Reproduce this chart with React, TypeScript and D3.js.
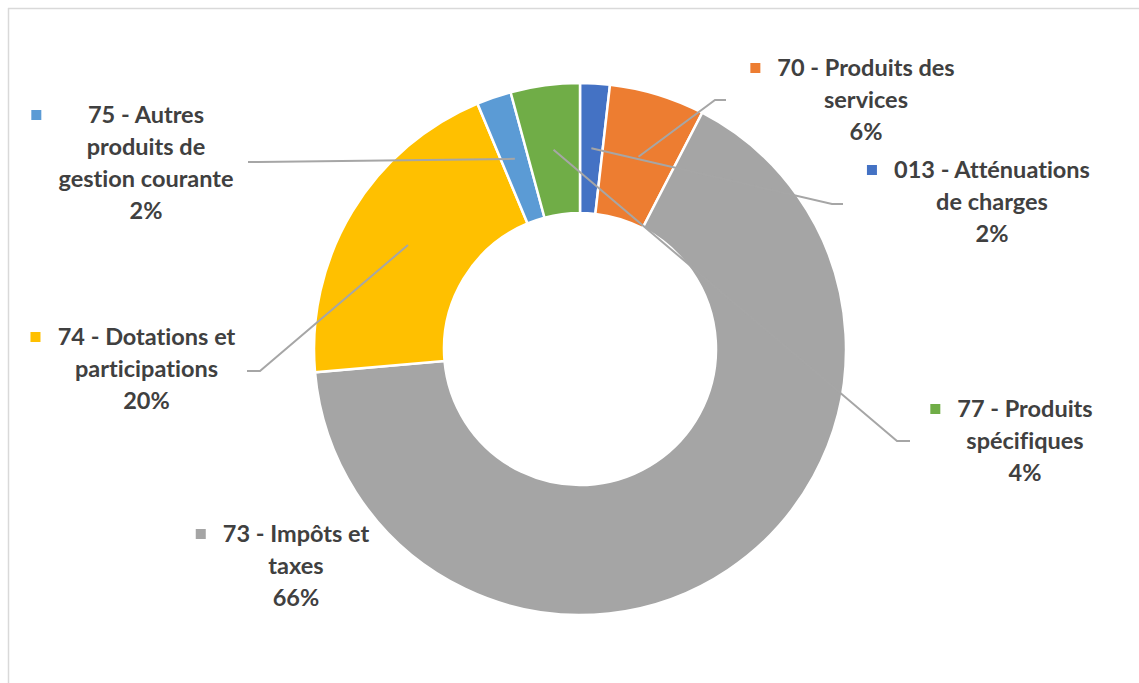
import React, { useMemo } from "react";
import * as d3 from "d3";

// ---- data ----
const categories = [
  "013 - Atténuations de charges",
  "70 - Produits des services",
  "73 - Impôts et taxes",
  "74 - Dotations et participations",
  "75 - Autres produits de gestion courante",
  "77 - Produits spécifiques",
];
const labelLines = [
  ["013 - Atténuations", "de charges"],
  ["70 - Produits des", "services"],
  ["73 - Impôts et", "taxes"],
  ["74 - Dotations et", "participations"],
  ["75 - Autres", "produits de", "gestion courante"],
  ["77 - Produits", "spécifiques"],
];
const values = [1.8, 5.8, 66.0, 20.1, 2.1, 4.2];
const colors = ["#4472C4", "#ED7D31", "#A5A5A5", "#FFC000", "#5B9BD5", "#70AD47"];

// ---- layout (label placement, not data) ----
const labelLayout = [
  { cx: 992, y0: 178, leader: [[843, 204], [832, 204]] },
  { cx: 866, y0: 76, leader: [[726, 100], [715, 100]] },
  { cx: 296, y0: 542, leader: null },
  { cx: 146.5, y0: 345, leader: [[247, 371], [260, 371]] },
  { cx: 146, y0: 123, leader: [[248, 162], [258, 162]] },
  { cx: 1025, y0: 417, leader: [[910, 441], [897, 441]] },
];

const W = 1139;
const H = 683;
const CX = 580;
const CY = 349;
const R_OUT = 266;
const R_IN = 136;
const FONT_SIZE = 23.5;
const LINE_H = 32;
const FONT_FAMILY = "Lato, 'Noto Sans', sans-serif";
const TEXT_COLOR = "#404040";
const LEADER_COLOR = "#A6A6A6";

export default function App() {
  const total = d3.sum(values);
  const pct = d3.format(".0%");

  const arcs = useMemo(
    () =>
      d3
        .pie<number>()
        .sort(null)
        .value((d) => d)(values),
    []
  );
  const arcGen = d3.arc<d3.PieArcDatum<number>>().innerRadius(R_IN).outerRadius(R_OUT);

  const measure = useMemo(() => {
    const c = document.createElement("canvas").getContext("2d")!;
    c.font = `bold ${FONT_SIZE}px ${FONT_FAMILY}`;
    return (s: string) => c.measureText(s).width;
  }, []);

  return (
    <svg
      width={W}
      height={H}
      style={{ position: "absolute", left: 0, top: 0, display: "block", background: "#fff" }}
    >
      <line x1={8} y1={8.5} x2={W} y2={8.5} stroke="#D9D9D9" strokeWidth={1.5} />
      <line x1={8.5} y1={8} x2={8.5} y2={H} stroke="#D9D9D9" strokeWidth={1.5} />
      <g transform={`translate(${CX},${CY})`}>
        {arcs.map((a, i) => (
          <path key={categories[i]} d={arcGen(a) || ""} fill={colors[i]} stroke="#fff" strokeWidth={2.5} />
        ))}
      </g>
      {arcs.map((a, i) => {
        const lay = labelLayout[i];
        if (!lay.leader) return null;
        const [cxp, cyp] = arcGen.centroid(a);
        const pts = [...lay.leader, [CX + cxp, CY + cyp]];
        return (
          <polyline
            key={"l" + i}
            points={pts.map((p) => p.join(",")).join(" ")}
            fill="none"
            stroke={LEADER_COLOR}
            strokeWidth={2}
          />
        );
      })}
      {labelLines.map((lines, i) => {
        const lay = labelLayout[i];
        const all = [...lines, pct(values[i] / total)];
        const maxW = d3.max(all, (s) => measure(s)) || 0;
        const keyX = lay.cx - maxW / 2 - 17 - 10;
        return (
          <g
            key={"t" + i}
            fontFamily={FONT_FAMILY}
            fontWeight="bold"
            fontSize={FONT_SIZE}
            fill={TEXT_COLOR}
            style={{ fontVariantLigatures: "none" }}
          >
            <rect x={keyX} y={lay.y0 - 13} width={10} height={10} fill={colors[i]} />
            {all.map((s, j) => (
              <text key={j} x={lay.cx} y={lay.y0 + j * LINE_H} textAnchor="middle">
                {s}
              </text>
            ))}
          </g>
        );
      })}
    </svg>
  );
}
